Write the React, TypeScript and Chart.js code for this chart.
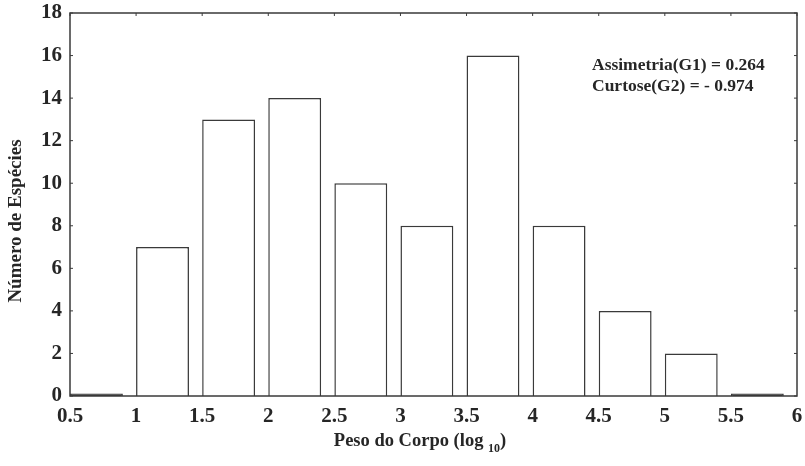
import React, { useEffect, useRef } from "react";
import { Chart, registerables } from "chart.js";

Chart.register(...registerables);

const binStarts = [0.5, 1.0, 1.5, 2.0, 2.5, 3.0, 3.5, 4.0, 4.5, 5.0, 5.5];
const counts = [0, 7, 13, 14, 10, 8, 16, 8, 4, 2, 0];
const BAR_WIDTH = 0.4;
const yTickMax = 18;
const yStep = 2;
const xMin = 0.5;
const xMax = 6;
const xStep = 0.5;
const yTitle = "Número de Espécies";
const xTitleMain = "Peso do Corpo (log ";
const xTitleSub = "10";
const xTitleEnd = ")";
const statLines = ["Assimetria(G1) = 0.264", "Curtose(G2) = - 0.974"];

const LINE = "#3a3a3a";
const TEXT = "#262626";
const SERIF = "'Liberation Serif', 'Times New Roman', serif";

export default function App() {
  const ref = useRef<HTMLCanvasElement | null>(null);

  useEffect(() => {
    if (!ref.current) return;
    const framePlugin = {
      id: "frame",
      afterDraw(chart: any) {
        const { ctx, chartArea: a, scales } = chart;
        const xs = scales.x;
        const ys = scales.y;
        ctx.save();
        ctx.strokeStyle = LINE;
        ctx.lineWidth = 1.5;
        ctx.strokeRect(a.left, a.top, a.right - a.left, a.bottom - a.top);
        ctx.lineWidth = 1;
        const tl = 3;
        ctx.beginPath();
        ys.ticks.forEach((t: any) => {
          const y = ys.getPixelForValue(t.value);
          ctx.moveTo(a.left, y);
          ctx.lineTo(a.left + tl, y);
          ctx.moveTo(a.right, y);
          ctx.lineTo(a.right - tl, y);
        });
        xs.ticks.forEach((t: any) => {
          const x = xs.getPixelForValue(t.value);
          ctx.moveTo(x, a.top);
          ctx.lineTo(x, a.top + tl);
        });
        ctx.stroke();

        ctx.fillStyle = TEXT;
        // y title
        ctx.save();
        ctx.translate(16, 221);
        ctx.rotate(-Math.PI / 2);
        ctx.font = `bold 19px ${SERIF}`;
        ctx.textAlign = "center";
        ctx.textBaseline = "middle";
        ctx.fillText(yTitle, 0, 0);
        ctx.restore();

        // x title with subscript
        const big = `bold 18.5px ${SERIF}`;
        const small = `bold 12px ${SERIF}`;
        ctx.font = big;
        const w1 = ctx.measureText(xTitleMain).width;
        ctx.font = small;
        const w2 = ctx.measureText(xTitleSub).width;
        ctx.font = big;
        const w3 = ctx.measureText(xTitleEnd).width;
        const total = w1 + w2 + w3;
        let x0 = 420 - total / 2;
        const yb = 446;
        ctx.textAlign = "left";
        ctx.textBaseline = "alphabetic";
        ctx.fillText(xTitleMain, x0, yb);
        x0 += w1;
        ctx.font = small;
        ctx.fillText(xTitleSub, x0, yb + 6);
        x0 += w2;
        ctx.font = big;
        ctx.fillText(xTitleEnd, x0, yb);

        // stats annotation
        ctx.font = `bold 17.5px ${SERIF}`;
        ctx.textBaseline = "middle";
        statLines.forEach((s, i) => {
          ctx.fillText(s, 592, 65 + i * 21);
        });
        ctx.restore();
      },
    };

    const chart = new Chart(ref.current, {
      type: "bar",
      data: {
        datasets: [
          {
            data: binStarts.map((s, i) => ({ x: s + BAR_WIDTH / 2, y: counts[i] })),
            backgroundColor: (c: any) => (c.raw && c.raw.y === 0 ? LINE : "#ffffff"),
            borderColor: LINE,
            borderWidth: 1.5,
            borderSkipped: "start",
            minBarLength: 2.5,
            categoryPercentage: 1,
            barPercentage: BAR_WIDTH / xStep,
          },
        ],
      },
      options: {
        animation: false,
        responsive: true,
        maintainAspectRatio: false,
        layout: { padding: { top: 13, right: 8, left: 0, bottom: 0 } },
        plugins: { legend: { display: false }, tooltip: { enabled: false } },
        scales: {
          x: {
            type: "linear",
            offset: false,
            min: xMin,
            max: xMax,
            grid: { display: false, drawTicks: false },
            border: { display: false },
            afterFit: (s: any) => {
              s.height = 70;
              s.paddingLeft = 0;
              s.paddingRight = 0;
            },
            ticks: {
              stepSize: xStep,
              autoSkip: false,
              maxRotation: 0,
              padding: 8,
              color: TEXT,
              font: { family: SERIF, size: 21, weight: "bold" },
              callback: (v: any) => String(v),
            },
          },
          y: {
            min: 0,
            max: yTickMax,
            grid: { display: false, drawTicks: false },
            border: { display: false },
            afterFit: (s: any) => {
              s.width = 70;
              s.paddingTop = 0;
              s.paddingBottom = 0;
            },
            ticks: {
              stepSize: yStep,
              padding: 8,
              color: TEXT,
              font: { family: SERIF, size: 21, weight: "bold" },
            },
          },
        },
      },
      plugins: [framePlugin],
    } as any);
    return () => chart.destroy();
  }, []);

  return (
    <div style={{ position: "fixed", left: 0, top: 0, width: 805, height: 466, background: "#fff" }}>
      <canvas ref={ref} />
    </div>
  );
}
